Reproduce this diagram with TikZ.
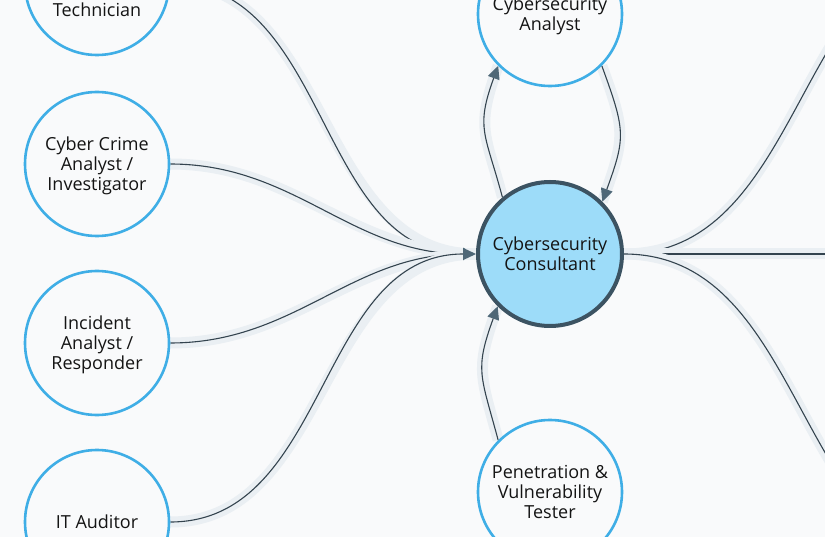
\documentclass[tikz,border=0pt]{standalone}
\usepackage{fontspec}
\setmainfont{Open Sans}
\usetikzlibrary{positioning,arrows.meta,backgrounds}

\definecolor{bgc}{HTML}{F9FAFB}
\definecolor{ringc}{HTML}{3FAEE6}
\definecolor{hubfill}{HTML}{9DDCF9}
\definecolor{hubline}{HTML}{3C5362}
\definecolor{linkc}{HTML}{34444F}
\definecolor{tipc}{HTML}{4E6777}
\definecolor{haloc}{HTML}{EAEFF3}

\begin{document}
\begin{tikzpicture}[x=1pt,y=1pt,
  every node/.style={circle,minimum size=144pt,inner sep=0pt,align=center,
    font=\fontsize{18}{20}\selectfont,text=black!92,text depth=0pt},
  role/.style={draw=ringc,line width=2.6pt,fill=bgc},
  hub/.style={draw=hubline,line width=4pt,fill=hubfill},
  link/.style={draw=linkc,line width=1.1pt,preaction={draw=haloc,line width=11pt,-}},
  >={Triangle[length=13pt,width=12pt,color=tipc]},
  node distance=179pt, on grid,
  ]
  \useasboundingbox (0,0) rectangle (825,-537);
  \node[hub] (cons) at (550,-254) {Cybersecurity\\Consultant};
  \node[role,above=240pt of cons] (ana) {Cybersecurity\\Analyst};
  \node[role,below=238pt of cons] (pen) {Penetration \&\\Vulnerability\\Tester};
  \node[role] (crime) at (97,-164) {Cyber Crime\\Analyst /\\Investigator};
  \node[role,above=181pt of crime,label={[yshift=-27pt]center:Technician}] (tech) {};
  \node[role,below=of crime] (inc) {Incident\\Analyst /\\Responder};
  \node[role,below=of inc] (aud) {IT Auditor};
  \coordinate (up) at (980,60);
  \coordinate (ahead) at (900,-254);
  \coordinate (down) at (980,-568);
  \begin{scope}[on background layer]
    \fill[bgc] (0,0) rectangle (825,-537);
    \path[->]
    (tech.east) edge[link,out=0,in=180] (cons.west)
    (crime.east) edge[link,out=0,in=180] (cons.west)
    (inc.east) edge[link,out=0,in=180] (cons.west)
    (aud.east) edge[link,out=0,in=180] (cons.west)
    (cons.130) edge[link,out=105,in=250,looseness=1.3] (ana.225)
    (ana.315) edge[link,out=-70,in=70,looseness=1.3] (cons.45)
    (pen.135) edge[link,out=105,in=250,looseness=1.3] (cons.225);
    \path
    (cons.east) edge[link,out=0,in=180] (up)
    (cons.east) edge[link] (ahead)
    (cons.east) edge[link,out=0,in=180] (down);
  \end{scope}
\end{tikzpicture}
\end{document}
